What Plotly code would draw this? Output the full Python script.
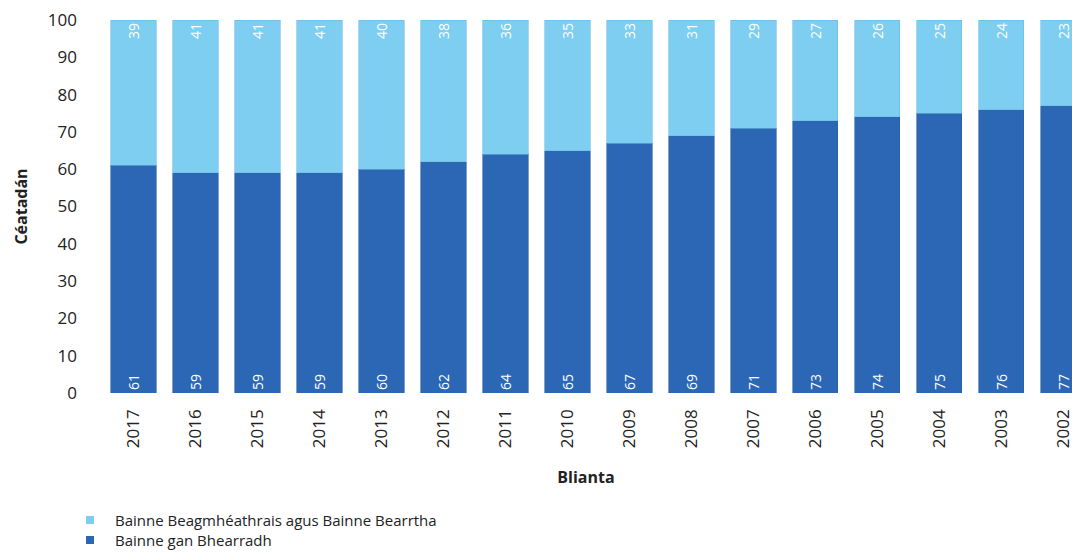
import plotly.graph_objects as go

# Milk consumption share by year (percent)
years = ["2017", "2016", "2015", "2014", "2013", "2012", "2011", "2010",
         "2009", "2008", "2007", "2006", "2005", "2004", "2003", "2002"]
whole_milk = [61, 59, 59, 59, 60, 62, 64, 65, 67, 69, 71, 73, 74, 75, 76, 77]
low_fat_skimmed = [39, 41, 41, 41, 40, 38, 36, 35, 33, 31, 29, 27, 26, 25, 24, 23]

series_names = ["Bainne gan Bhearradh",
                "Bainne Beagmhéathrais agus Bainne Bearrtha"]
y_ticks = [0, 10, 20, 30, 40, 50, 60, 70, 80, 90, 100]

DARK = "#2b67b5"
LIGHT = "#7dcef1"
FONT = "Open Sans"
label_font = dict(color="white", size=14, family=FONT)

W, H = 1072, 553
M_L, M_R, M_T, M_B = 100, 0, 20, 160
PLOT_W = W - M_L - M_R
PLOT_H = H - M_T - M_B


def px_x(px):
    """Pixel column -> paper x."""
    return (px - M_L) / PLOT_W


def px_y(py):
    """Pixel row -> paper y."""
    return (H - M_B - py) / PLOT_H


fig = go.Figure()
fig.add_trace(go.Bar(
    x=years, y=whole_milk, name=series_names[0], showlegend=False,
    marker=dict(color=DARK, line=dict(color="#2a5f9e", width=0.6)),
    text=whole_milk, textposition="inside", insidetextanchor="start",
    textangle=-90, textfont=label_font, cliponaxis=False,
))
fig.add_trace(go.Bar(
    x=years, y=low_fat_skimmed, name=series_names[1], showlegend=False,
    marker=dict(color=LIGHT, line=dict(color="#6bbde3", width=0.6)),
    text=low_fat_skimmed, textposition="inside", insidetextanchor="end",
    textangle=-90, textfont=label_font, cliponaxis=False,
))

# Legend drawn below the chart: small square key + label per series
legend_rows = [(series_names[1], LIGHT, 520), (series_names[0], DARK, 540)]
shapes, annotations = [], []
for name, color, row in legend_rows:
    shapes.append(dict(
        type="rect", xref="paper", yref="paper",
        x0=px_x(86), x1=px_x(94), y0=px_y(row + 4), y1=px_y(row - 4),
        fillcolor=color, line=dict(width=0),
    ))
    annotations.append(dict(
        text=name, xref="paper", yref="paper",
        x=px_x(113), y=px_y(row), xanchor="left", yanchor="middle",
        showarrow=False, font=dict(size=15, color="#222222", family=FONT),
    ))

fig.update_layout(
    barmode="stack",
    bargap=0.27,
    width=W, height=H,
    margin=dict(l=M_L, r=M_R, t=M_T, b=M_B),
    paper_bgcolor="white", plot_bgcolor="white",
    font=dict(family=FONT, color="#222222", size=16),
    uniformtext=dict(minsize=14, mode="show"),
    showlegend=False,
    shapes=shapes,
    annotations=annotations,
    xaxis=dict(
        range=[-0.54, 15.14], tickangle=-90, showgrid=False, showline=False,
        automargin=False,
        ticks="", ticklabelstandoff=12, tickfont=dict(size=17),
        title=dict(text="<b>Blianta</b>", font=dict(size=16), standoff=24),
    ),
    yaxis=dict(
        range=[0, 100], tickvals=y_ticks, showgrid=False, showline=False,
        automargin=False,
        zeroline=False, ticks="", ticklabelstandoff=22, tickfont=dict(size=17),
        title=dict(text="<b>Céatadán</b>", font=dict(size=16), standoff=16),
    ),
)

fig.write_html("out.html")
